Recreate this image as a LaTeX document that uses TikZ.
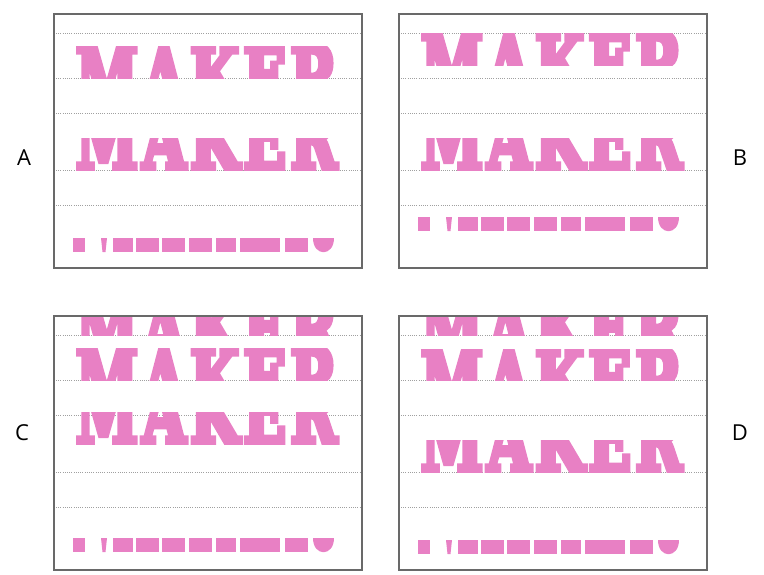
\documentclass[tikz,border=0pt]{standalone}
\usepackage{graphicx}
\usepackage{fontspec}
\setsansfont{Open Sans}
\newfontfamily\heavyfont[FakeBold=8, LetterSpace=8]{DejaVu Serif Bold}

\definecolor{makerpink}{RGB}{232,128,196}
\definecolor{framegray}{RGB}{105,105,105}
\definecolor{gridgray}{RGB}{160,160,160}

\tikzset{
  frame/.style={draw=framegray, line width=1.3pt},
  gridline/.style={draw=gridgray, line width=0.9pt, dash pattern=on 1pt off 1.2pt},
  panellabel/.style={font=\sffamily\fontsize{22}{26}\selectfont, inner sep=0pt},
  slice/.style={anchor=north west, inner sep=0pt, outer sep=0pt, text=makerpink},
  piece/.style={fill=makerpink}
}

% the whole word, cut into bands below
\newcommand{\makerword}{\resizebox{261pt}{64pt}{\heavyfont MAKER}}
% band of the word: name, word top, band top, band bottom
\newcommand{\wordcut}[4]{%
  \begin{scope}
    \clip (0,#3) rectangle (308,#4);
    \node[slice] (#1) at (22,#2) {\makerword};
  \end{scope}}
% row of feet pieces at the given top
\newcommand{\footrow}[1]{%
  \foreach \xa/\xb in {19/31,59/79,82/105,108/131,135/158,162/182,186/226,231/254}
    \fill[piece] (\xa,#1) rectangle (\xb,#1+14);
  \fill[piece] (47,#1) -- (53,#1) -- (51.5,#1+14) -- (48.5,#1+14) -- cycle;
  \fill[piece] (259,#1) -- (280,#1) .. controls (280,#1+19) and (259,#1+19) .. (259,#1) -- cycle;}

\begin{document}
\begin{tikzpicture}[x=1pt, y=-1pt]
    \useasboundingbox (0,0) rectangle (764,574);

    % Panel A
    \begin{scope}[shift={(54,14)}]
        \foreach \gy in {19,64,99,156,191}
            \draw[gridline] (2,\gy) -- (306,\gy);
        \wordcut{aTop}{32}{32}{64}
        \wordcut{aMid}{92}{124}{156}
        \footrow{224}
        \draw[frame] (0,0) rectangle (308,254);
    \end{scope}

    % Panel B
    \begin{scope}[shift={(399,14)}]
        \foreach \gy in {19,64,99,156,191}
            \draw[gridline] (2,\gy) -- (306,\gy);
        \wordcut{bTop}{19}{19}{51}
        \wordcut{bMid}{92}{124}{156}
        \footrow{203}
        \draw[frame] (0,0) rectangle (308,254);
    \end{scope}

    % Panel C
    \begin{scope}[shift={(54,316)}]
        \foreach \gy in {19,64,99,156,191}
            \draw[gridline] (2,\gy) -- (306,\gy);
        \wordcut{cCut}{-19}{0}{19}
        \wordcut{cTop}{32}{32}{64}
        \wordcut{cMid}{64}{96}{128}
        \footrow{222}
        \draw[frame] (0,0) rectangle (308,254);
    \end{scope}

    % Panel D
    \begin{scope}[shift={(399,316)}]
        \foreach \gy in {19,64,99,156,191}
            \draw[gridline] (2,\gy) -- (306,\gy);
        \wordcut{dCut}{-19}{0}{19}
        \wordcut{dTop}{33}{33}{64}
        \wordcut{dMid}{92}{124}{156}
        \footrow{224}
        \draw[frame] (0,0) rectangle (308,254);
    \end{scope}

    % Labels
    \node[panellabel] (labA) at (24,158) {A};
    \node[panellabel] (labB) at (740,158) {B};
    \node[panellabel] (labC) at (22,433) {C};
    \node[panellabel] (labD) at (740,433) {D};
\end{tikzpicture}
\end{document}
